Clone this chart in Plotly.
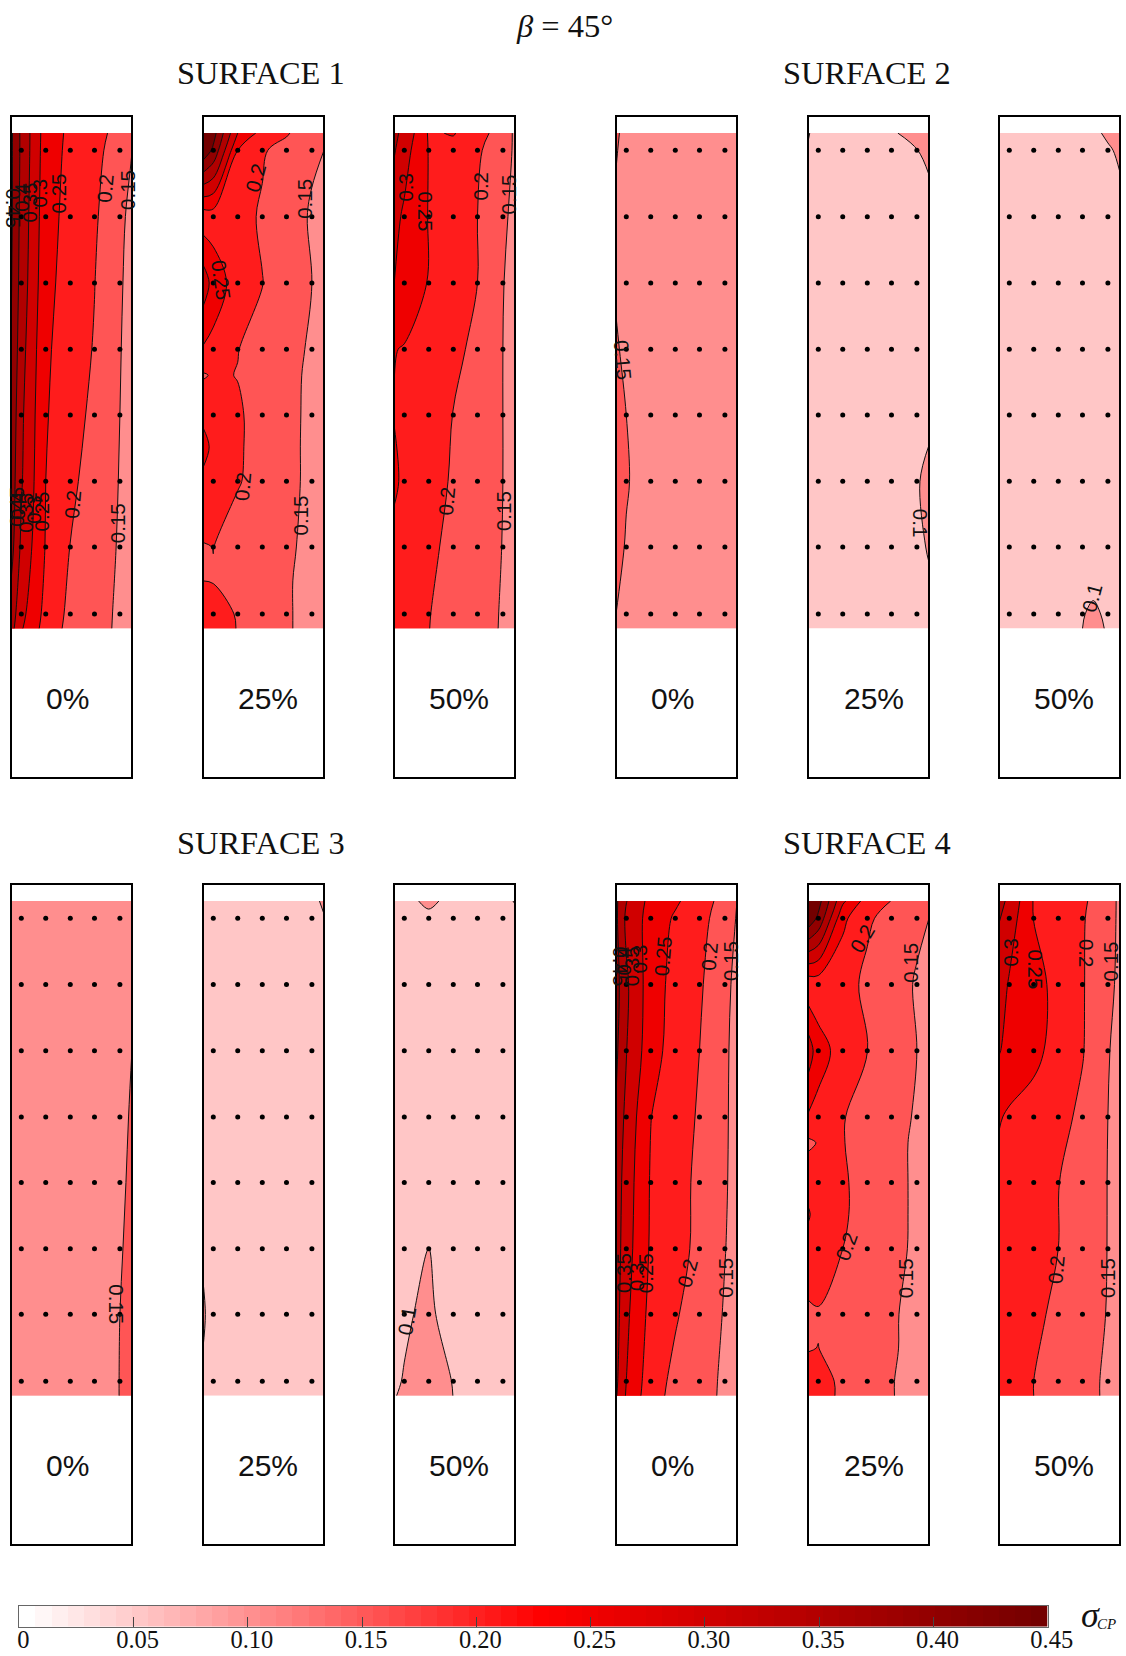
import plotly.graph_objects as go

W, H = 1126, 1656
K = 1126 / 1066  # label table below is read on the 1066-wide view

# ---------- measurement grid (fractions of each panel box) ----------
col_x = [0, .085, .287, .49, .69, .9, 1]
col_x_lobe = [0, .085, .287, .49, .69, .78, .9, 1]
row_y = [.973, .947, .847, .747, .647, .548, .448, .349, .248, .226]
row_y_fine = [.973, .947, .847, .747, .647, .608, .548, .5, .448, .349, .298, .248, .226]
dot_x = [.085, .287, .49, .69, .9]
dot_y = [.947, .847, .747, .647, .548, .448, .349, .248]

# ---------- sigma_CP values ----------
s1_0 = [[.46, .39, .277, .24, .218, .183, .15],
        [.46, .39, .275, .238, .214, .176, .15],
        [.46, .385, .27, .233, .207, .16, .138],
        [.455, .38, .265, .228, .201, .155, .135],
        [.45, .37, .258, .224, .197, .152, .134],
        [.44, .36, .254, .219, .189, .15, .133],
        [.43, .355, .25, .21, .18, .148, .132],
        [.42, .34, .247, .199, .173, .146, .13],
        [.38, .315, .235, .188, .167, .143, .128],
        [.37, .305, .23, .185, .165, .143, .128]]
s1_25 = [[.5, .47, .30, .232, .205, .168, .155],
         [.49, .44, .25, .205, .183, .155, .15],
         [.22, .225, .215, .195, .168, .146, .135],
         [.33, .28, .225, .201, .178, .15, .14],
         [.245, .235, .201, .185, .168, .143, .137],
         [.195, .205, .199, .183, .165, .14, .135],
         [.24, .225, .205, .185, .163, .14, .135],
         [.265, .24, .205, .185, .162, .14, .134],
         [.24, .225, .203, .185, .162, .14, .134],
         [.197, .2005, .182, .165, .157, .139, .132],
         [.2, .198, .187, .17, .155, .135, .13],
         [.235, .222, .196, .175, .155, .135, .13],
         [.25, .226, .198, .176, .155, .135, .13]]
s1_50 = [[.36, .338, .245, .253, .222, .174, .143],
         [.355, .32, .248, .235, .208, .165, .145],
         [.315, .292, .248, .224, .2, .155, .143],
         [.302, .283, .247, .224, .2, .151, .14],
         [.252, .247, .233, .21, .19, .15, .14],
         [.249, .238, .222, .199, .178, .15, .14],
         [.256, .243, .222, .194, .175, .15, .14],
         [.24, .234, .212, .185, .17, .149, .138],
         [.235, .225, .202, .178, .165, .147, .135],
         [.233, .223, .201, .176, .163, .147, .135]]
s2_0 = [[.155, .14, .135, .13, .128, .125, .12],
        [.152, .14, .135, .13, .128, .125, .12],
        [.145, .138, .133, .13, .127, .125, .12],
        [.148, .138, .133, .13, .127, .124, .12],
        [.152, .146, .134, .13, .127, .124, .12],
        [.16, .15, .136, .13, .127, .124, .12],
        [.16, .152, .137, .13, .126, .124, .12],
        [.158, .148, .136, .13, .126, .123, .12],
        [.15, .14, .134, .129, .126, .123, .12],
        [.148, .14, .134, .129, .126, .123, .12]]
s2_25 = [[.102, .09, .085, .085, .095, .115, .12],
         [.098, .09, .085, .085, .09, .0995, .1035],
         [.09, .085, .083, .083, .085, .09, .094],
         [.088, .085, .083, .083, .083, .088, .09],
         [.087, .085, .083, .083, .083, .088, .09],
         [.087, .085, .083, .083, .085, .09, .095],
         [.087, .085, .083, .083, .087, .098, .106],
         [.087, .085, .083, .083, .085, .092, .103],
         [.087, .085, .083, .083, .083, .088, .09],
         [.087, .085, .083, .083, .083, .088, .09]]
s2_50 = [[.09, .085, .08, .08, .09, .095, .104, .115],
         [.088, .085, .08, .08, .085, .09, .097, .104],
         [.087, .083, .08, .08, .083, .085, .09, .092],
         [.087, .083, .08, .08, .083, .085, .088, .09],
         [.087, .083, .08, .08, .083, .085, .088, .09],
         [.087, .083, .08, .08, .083, .085, .088, .09],
         [.087, .083, .08, .08, .085, .087, .088, .09],
         [.087, .083, .082, .085, .09, .094, .09, .088],
         [.087, .085, .084, .09, .0995, .1015, .0985, .09],
         [.087, .085, .085, .09, .1, .103, .099, .09]]
s3_0 = [[.13, .13, .128, .128, .128, .13, .132],
        [.13, .13, .128, .128, .128, .13, .132],
        [.13, .13, .128, .128, .13, .138, .142],
        [.13, .13, .128, .128, .132, .142, .1502],
        [.13, .13, .128, .128, .133, .145, .152],
        [.13, .13, .128, .128, .134, .146, .154],
        [.13, .13, .128, .128, .134, .148, .156],
        [.13, .13, .128, .128, .135, .15, .158],
        [.13, .13, .128, .128, .135, .1505, .158],
        [.13, .13, .128, .128, .135, .1505, .158]]
s3_25 = [[.09, .088, .085, .085, .088, .095, .103],
         [.09, .088, .085, .085, .087, .092, .099],
         [.09, .088, .085, .085, .086, .088, .09],
         [.09, .088, .085, .085, .086, .088, .09],
         [.09, .088, .085, .085, .086, .088, .09],
         [.09, .088, .085, .085, .086, .088, .09],
         [.097, .089, .085, .085, .086, .088, .09],
         [.103, .09, .085, .085, .086, .088, .09],
         [.097, .089, .085, .085, .086, .088, .09],
         [.09, .088, .085, .085, .086, .088, .09]]
s3_50 = [[.085, .09, .107, .09, .085, .09, .102],
         [.085, .085, .092, .085, .085, .085, .09],
         [.08, .08, .082, .08, .08, .08, .082],
         [.08, .08, .082, .08, .08, .08, .08],
         [.08, .08, .084, .08, .08, .08, .08],
         [.08, .08, .09, .08, .08, .08, .08],
         [.08, .08, .1, .08, .08, .08, .08],
         [.085, .095, .108, .08, .08, .08, .08],
         [.095, .102, .125, .098, .085, .08, .08],
         [.098, .106, .13, .0995, .085, .08, .08]]
s4_0 = [[.41, .352, .284, .257, .225, .181, .15],
        [.41, .34, .28, .244, .217, .174, .147],
        [.42, .358, .274, .234, .207, .16, .14],
        [.41, .352, .27, .229, .2, .155, .14],
        [.395, .335, .251, .222, .195, .154, .14],
        [.38, .325, .246, .218, .19, .153, .14],
        [.375, .32, .244, .218, .188, .151, .138],
        [.37, .31, .235, .205, .175, .147, .135],
        [.36, .3, .223, .188, .167, .143, .133],
        [.355, .295, .22, .185, .165, .143, .132]]
s4_25 = [[.5, .47, .31, .228, .199, .17, .156],
         [.49, .44, .262, .206, .186, .158, .15],
         [.215, .22, .215, .192, .17, .146, .135],
         [.33, .27, .23, .201, .175, .15, .14],
         [.245, .235, .202, .185, .168, .145, .135],
         [.19, .203, .202, .18, .163, .143, .133],
         [.235, .225, .205, .185, .163, .143, .133],
         [.255, .232, .205, .185, .163, .143, .133],
         [.235, .222, .2, .182, .16, .144, .134],
         [.19, .197, .178, .172, .155, .138, .13],
         [.198, .2005, .183, .17, .155, .137, .13],
         [.215, .215, .192, .17, .152, .135, .128],
         [.22, .215, .193, .172, .152, .135, .128]]
s4_50 = [[.365, .34, .247, .228, .209, .165, .143],
         [.352, .325, .249, .23, .205, .16, .145],
         [.325, .295, .265, .237, .204, .156, .145],
         [.303, .285, .262, .233, .203, .152, .14],
         [.254, .243, .232, .215, .19, .15, .14],
         [.235, .232, .225, .201, .18, .149, .14],
         [.232, .228, .215, .2, .177, .149, .139],
         [.23, .22, .21, .19, .17, .148, .139],
         [.228, .215, .2, .18, .165, .143, .135],
         [.228, .213, .2, .18, .165, .143, .135]]

panels = [(s1_0, col_x, row_y), (s1_25, col_x, row_y_fine), (s1_50, col_x, row_y),
          (s2_0, col_x, row_y), (s2_25, col_x, row_y), (s2_50, col_x_lobe, row_y),
          (s3_0, col_x, row_y), (s3_25, col_x, row_y), (s3_50, col_x, row_y),
          (s4_0, col_x, row_y), (s4_25, col_x, row_y_fine), (s4_50, col_x, row_y)]

band_colors = ["#ffffff", "#ffc6c6", "#ff8e8e", "#ff5555", "#ff1c1c", "#ef0000",
               "#d00000", "#b10000", "#920000", "#730000", "#730000"]
ramp_colors = [[0, "#ffffff"], [.5, "#ff0000"], [1, "#700000"]]
cb_levels = [round(i * 0.45 / 64, 4) for i in range(65)]
cb_ticks = [0, .05, .10, .15, .20, .25, .30, .35, .40, .45]
cb_labels = ["0", "0.05", "0.10", "0.15", "0.20", "0.25", "0.30", "0.35", "0.40", "0.45"]

percent_labels = ["0%", "25%", "50%"]
surface_names = ["SURFACE 1", "SURFACE 2", "SURFACE 3", "SURFACE 4"]

# contour labels: text, centre x, centre y, angle
contour_labels = [
    ("0.25", 55, 183, -90), ("0.2", 99, 178, -85), ("0.15", 120, 180, -90), ("0.3", 37, 183, -90),
    ("0.35", 28, 192, -90), ("0.4", 20, 187, -90), ("0.45", 13, 197, 90),
    ("0.25", 39, 484, -90), ("0.3", 31, 482, -90), ("0.35", 24, 485, -90), ("0.4", 17, 478, -90),
    ("0.45", 15, 480, -90), ("0.2", 69, 477, -85), ("0.15", 112, 495, -90),
    ("0.2", 242, 168, -75), ("0.15", 288, 188, -90), ("0.25", 209, 265, 82), ("0.2", 230, 460, -85),
    ("0.15", 284, 488, -90),
    ("0.3", 384, 177, -90), ("0.25", 403, 200, 90), ("0.2", 455, 176, -90), ("0.15", 481, 184, -90),
    ("0.2", 423, 474, -85), ("0.15", 476, 484, -90),
    ("0.15", 590, 341, 85), ("0.1", 871, 495, 90), ("0.1", 1034, 566, -75),
    ("0.15", 110, 1235, 90), ("0.1", 385, 1250, -80),
    ("0.25", 628, 905, -85), ("0.2", 672, 905, -85), ("0.15", 691, 910, -90), ("0.3", 605, 908, -90),
    ("0.35", 598, 915, -90), ("0.4", 590, 910, -90), ("0.45", 587, 915, 90),
    ("0.25", 611, 1205, -90), ("0.3", 603, 1208, -90), ("0.35", 591, 1205, -90),
    ("0.2", 651, 1205, -75), ("0.15", 686, 1210, -90),
    ("0.2", 817, 888, -60), ("0.15", 862, 912, -90), ("0.2", 801, 1180, -70), ("0.15", 857, 1210, -90),
    ("0.3", 957, 901, -90), ("0.25", 980, 918, 90), ("0.2", 1028, 903, 90), ("0.15", 1051, 910, -90),
    ("0.2", 1000, 1202, -85), ("0.15", 1048, 1210, -90),
]

# ---------- layout geometry in pixels ----------
panel_left = [12, 204, 395, 617, 809, 1000]
panel_w = 119
row_top = [116.5, 884.5]
row_bot = [776.5, 1543.5]
x_span = [1 / 121, 120 / 121]
y_span = [.003, .998]
cb_box = (19.4, 1047.7, 1605.7, 1626.7)
pct_x = [64, 254, 435, 637, 827, 1007]
SERIF = "Liberation Serif"
SANS = "Liberation Sans"

fig = go.Figure()
layout = {}
band_scale = [[i / 10, c] for i, c in enumerate(band_colors)]
for i, (z, xs, ys) in enumerate(panels):
    n = i + 1
    tag = "" if n == 1 else str(n)
    r = 0 if i < 6 else 1
    left = panel_left[i % 6]
    fig.add_trace(go.Contour(
        x=xs, y=ys, z=z, xaxis=f"x{tag}", yaxis=f"y{tag}",
        colorscale=band_scale, showscale=False, hoverinfo="skip",
        autocontour=False,
        contours=dict(start=.05, end=.5, size=.05, coloring="fill", showlabels=False),
        line=dict(color="#111111", width=1, smoothing=1),
    ))
    fig.add_trace(go.Scatter(
        x=[a for _ in dot_y for a in dot_x], y=[b for b in dot_y for _ in dot_x],
        mode="markers", marker=dict(color="black", size=5), hoverinfo="skip",
        xaxis=f"x{tag}", yaxis=f"y{tag}", showlegend=False,
    ))
    layout[f"xaxis{tag}"] = dict(
        domain=[left / W, (left + panel_w) / W], range=x_span, anchor=f"y{tag}", automargin=False,
        showgrid=False, zeroline=False, showticklabels=False, ticks="",
        showline=True, mirror=True, linecolor="black", linewidth=2,
    )
    layout[f"yaxis{tag}"] = dict(
        domain=[1 - row_bot[r] / H, 1 - row_top[r] / H], range=y_span, anchor=f"x{tag}", automargin=False,
        showgrid=False, zeroline=False, showticklabels=False, ticks="",
        showline=True, mirror=True, linecolor="black", linewidth=2,
    )

# colour key
fig.add_trace(go.Heatmap(
    x=cb_levels, y=[0, 1], z=[cb_levels[:-1]], xaxis="x13", yaxis="y13",
    colorscale=ramp_colors, zmin=0, zmax=.45, showscale=False, hoverinfo="skip",
))
layout["xaxis13"] = dict(
    domain=[cb_box[0] / W, cb_box[1] / W], range=[0, .45], anchor="y13", automargin=False,
    tickvals=cb_ticks, ticktext=cb_labels, ticks="inside", ticklen=10, tickwidth=1, tickcolor="#444",
    tickfont=dict(family=SERIF, size=24.5, color="#111"), ticklabelshift=4, ticklabelstandoff=-9,
    showgrid=False, zeroline=False, showline=True, mirror=True, linecolor="#666", linewidth=1,
)
layout["yaxis13"] = dict(
    domain=[1 - cb_box[3] / H, 1 - cb_box[2] / H], range=[0, 1], anchor="x13", automargin=False,
    showgrid=False, zeroline=False, showticklabels=False, ticks="",
    showline=True, mirror=True, linecolor="#666", linewidth=1,
)

def note(text, x, y, size, family=SERIF, angle=0, color="#111"):
    return dict(text=text, x=x * K / W, y=1 - y * K / H, xref="paper", yref="paper", showarrow=False,
                xanchor="center", yanchor="middle", textangle=angle, borderpad=0,
                font=dict(family=family, size=size, color=color))

notes = [note("<i>β</i> = 45°", 534, 25, 32.5)]
for name, x, y in zip(surface_names, [247, 821, 247, 821], [69, 69, 798, 798]):
    notes.append(note(name, x, y, 32.4))
for y in [661, 1387]:
    for k, x in enumerate(pct_x):
        notes.append(note(percent_labels[k % 3], x, y, 30, SANS))
for text, x, y, ang in contour_labels:
    notes.append(note(text, x, y, 20.5, SANS, ang))
notes.append(note("<i>σ</i>", 1032, 1529, 36))
notes.append(note("<i>CP</i>", 1048, 1537, 15))

fig.update_layout(
    width=W, height=H, margin=dict(l=0, r=0, t=0, b=0), autosize=False,
    paper_bgcolor="white", plot_bgcolor="white", showlegend=False,
    annotations=notes, **layout,
)
fig.write_html("out.html", config={"displayModeBar": False},
               post_script="document.body.style.margin='0';")
